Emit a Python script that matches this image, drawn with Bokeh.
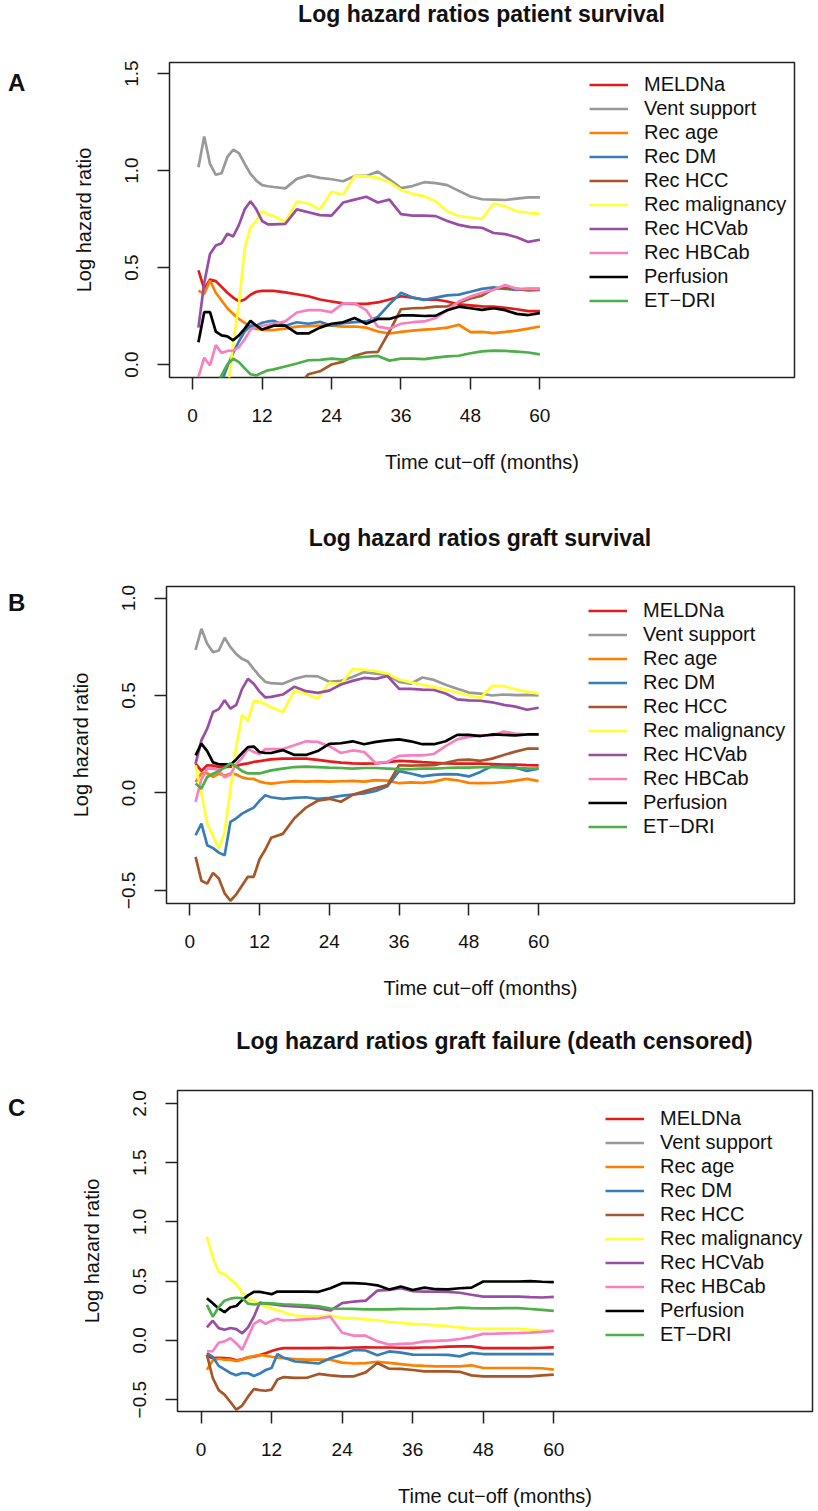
from bokeh.plotting import figure
from bokeh.models import Range1d, FixedTicker, Legend, LegendItem, Div
from bokeh.layouts import column, row
from bokeh.embed import file_html
from bokeh.resources import INLINE

# ---------------- data ----------------
months = [1, 2, 3, 4, 5, 6, 7, 8, 9, 10, 11, 12, 13, 14,
          16, 18, 20, 22, 24, 26, 28, 30, 32, 34, 36, 38, 40, 42, 44, 46, 48, 50, 52, 54, 56, 58, 60]

series_names = ["MELDNa", "Vent support", "Rec age", "Rec DM", "Rec HCC",
                "Rec malignancy", "Rec HCVab", "Rec HBCab", "Perfusion", "ET\u2212DRI"]
series_colors = ["#E41A1C", "#999999", "#FF7F00", "#377EB8", "#A65628",
                 "#FFFF33", "#984EA3", "#F781BF", "#000000", "#4DAF4A"]

x_ticks = [0, 12, 24, 36, 48, 60]

# Panel A: patient survival
a_meldna = [0.485, 0.39, 0.438, 0.43, 0.40, 0.37, 0.345, 0.325, 0.335, 0.36, 0.375, 0.38, 0.38, 0.38,
            0.372, 0.362, 0.352, 0.335, 0.325, 0.315, 0.313, 0.313, 0.32, 0.335, 0.352, 0.345, 0.335, 0.335,
            0.325, 0.31, 0.305, 0.30, 0.298, 0.292, 0.285, 0.275, 0.275]
a_vent = [1.017, 1.175, 1.034, 0.978, 0.986, 1.07, 1.107, 1.09, 1.034, 0.983, 0.948, 0.925, 0.919, 0.915,
          0.908, 0.957, 0.975, 0.962, 0.955, 0.945, 0.972, 0.972, 0.995, 0.955, 0.909, 0.92, 0.94, 0.935,
          0.925, 0.895, 0.866, 0.852, 0.85, 0.848, 0.855, 0.862, 0.862]
a_age = [0.381, 0.364, 0.433, 0.37, 0.33, 0.29, 0.261, 0.235, 0.215, 0.192, 0.183, 0.179, 0.177, 0.178,
         0.185, 0.195, 0.198, 0.2, 0.2, 0.195, 0.196, 0.19, 0.17, 0.16, 0.168, 0.175, 0.18, 0.184,
         0.19, 0.205, 0.167, 0.168, 0.162, 0.168, 0.175, 0.185, 0.196]
a_dm = [-0.3, -0.25, -0.2, -0.15, -0.09, -0.01, 0.06, 0.12, 0.17, 0.2, 0.2, 0.215, 0.222, 0.225,
        0.2, 0.218, 0.21, 0.22, 0.2, 0.213, 0.218, 0.222, 0.245, 0.31, 0.37, 0.345, 0.333, 0.345,
        0.356, 0.36, 0.375, 0.39, 0.398, 0.39, 0.385, 0.39, 0.39]
a_hcc = [-0.9, -0.85, -0.8, -0.75, -0.7, -0.6, -0.55, -0.5, -0.45, -0.4, -0.35, -0.3, -0.27, -0.25,
         -0.2, -0.12, -0.05, -0.035, 0.0, 0.015, 0.045, 0.062, 0.065, 0.17, 0.285, 0.29, 0.292, 0.298,
         0.3, 0.318, 0.34, 0.355, 0.39, 0.395, 0.39, 0.382, 0.385]
a_malig = [-0.6, -0.55, -0.5, -0.45, -0.35, -0.15, 0.107, 0.313, 0.6, 0.708, 0.74, 0.79, 0.775, 0.765,
           0.735, 0.84, 0.83, 0.8, 0.89, 0.875, 0.972, 0.97, 0.962, 0.94, 0.9, 0.88, 0.868, 0.84,
           0.79, 0.765, 0.758, 0.75, 0.83, 0.815, 0.79, 0.782, 0.777]
a_hcv = [0.19, 0.42, 0.57, 0.613, 0.625, 0.674, 0.66, 0.72, 0.80, 0.842, 0.80, 0.74, 0.722, 0.722,
         0.725, 0.8, 0.785, 0.77, 0.768, 0.835, 0.85, 0.865, 0.835, 0.85, 0.775, 0.768, 0.768, 0.765,
         0.74, 0.72, 0.708, 0.705, 0.678, 0.672, 0.656, 0.632, 0.643]
a_hbc = [-0.065, 0.035, -0.005, 0.1, 0.06, 0.07, 0.072, 0.09, 0.13, 0.18, 0.195, 0.2, 0.205, 0.21,
         0.222, 0.268, 0.28, 0.28, 0.27, 0.315, 0.315, 0.28, 0.195, 0.185, 0.21, 0.218, 0.222, 0.24,
         0.28, 0.325, 0.35, 0.37, 0.385, 0.41, 0.39, 0.39, 0.39]
a_perf = [0.115, 0.27, 0.27, 0.17, 0.15, 0.145, 0.125, 0.15, 0.185, 0.225, 0.2, 0.18, 0.19, 0.2,
          0.2, 0.16, 0.16, 0.19, 0.21, 0.218, 0.24, 0.21, 0.235, 0.235, 0.253, 0.253, 0.25, 0.252,
          0.28, 0.298, 0.29, 0.282, 0.29, 0.28, 0.261, 0.255, 0.265]
a_etdri = [-0.3, -0.25, -0.18, -0.12, -0.055, 0.0, 0.03, 0.012, -0.02, -0.05, -0.057, -0.042, -0.03, -0.025,
           -0.01, 0.005, 0.022, 0.024, 0.03, 0.025, 0.035, 0.04, 0.044, 0.02, 0.03, 0.03, 0.028, 0.035,
           0.042, 0.045, 0.058, 0.068, 0.072, 0.07, 0.066, 0.062, 0.052]

# Panel B: graft survival
b_meldna = [0.15, 0.113, 0.142, 0.14, 0.133, 0.133, 0.135, 0.138, 0.147, 0.152, 0.159, 0.163, 0.168, 0.172,
            0.176, 0.176, 0.176, 0.17, 0.162, 0.156, 0.152, 0.15, 0.152, 0.158, 0.165, 0.162, 0.158, 0.155,
            0.152, 0.15, 0.15, 0.15, 0.148, 0.146, 0.145, 0.143, 0.142]
b_vent = [0.734, 0.842, 0.765, 0.722, 0.731, 0.796, 0.748, 0.712, 0.688, 0.674, 0.635, 0.6, 0.57, 0.563,
          0.56, 0.585, 0.6, 0.598, 0.57, 0.575, 0.595, 0.62, 0.612, 0.605, 0.57, 0.56, 0.592, 0.58,
          0.555, 0.535, 0.515, 0.51, 0.5, 0.505, 0.502, 0.503, 0.5]
b_age = [0.056, 0.1, 0.102, 0.082, 0.099, 0.088, 0.1, 0.095, 0.08, 0.073, 0.072, 0.058, 0.052, 0.048,
         0.055, 0.061, 0.058, 0.061, 0.058, 0.06, 0.062, 0.058, 0.066, 0.063, 0.05, 0.054, 0.052, 0.058,
         0.072, 0.065, 0.052, 0.05, 0.051, 0.056, 0.063, 0.072, 0.061]
b_dm = [-0.217, -0.157, -0.268, -0.283, -0.306, -0.319, -0.148, -0.13, -0.106, -0.09, -0.075, -0.04, -0.012, -0.022,
        -0.03, -0.025, -0.022, -0.03, -0.025, -0.015, -0.008, -0.002, 0.01, 0.035, 0.112, 0.1, 0.085, 0.093,
        0.097, 0.095, 0.085, 0.108, 0.138, 0.138, 0.13, 0.113, 0.125]
b_hcc = [-0.328, -0.45, -0.465, -0.41, -0.439, -0.515, -0.553, -0.52, -0.475, -0.43, -0.43, -0.34, -0.29, -0.23,
         -0.21, -0.13, -0.075, -0.04, -0.03, -0.045, -0.01, 0.008, 0.025, 0.04, 0.142, 0.14, 0.142, 0.143,
         0.155, 0.168, 0.171, 0.165, 0.176, 0.195, 0.212, 0.227, 0.227]
b_malig = [0.142, 0.0, -0.157, -0.22, -0.285, -0.2, 0.02, 0.24, 0.4, 0.37, 0.47, 0.47, 0.455, 0.44,
           0.415, 0.525, 0.508, 0.485, 0.565, 0.558, 0.636, 0.632, 0.625, 0.612, 0.582, 0.567, 0.556, 0.543,
           0.53, 0.515, 0.5, 0.488, 0.55, 0.548, 0.532, 0.52, 0.509]
b_hcv = [0.15, 0.27, 0.33, 0.415, 0.43, 0.475, 0.432, 0.452, 0.534, 0.585, 0.56, 0.52, 0.49, 0.493,
         0.505, 0.545, 0.522, 0.513, 0.525, 0.556, 0.575, 0.59, 0.585, 0.6, 0.534, 0.534, 0.53, 0.528,
         0.51, 0.48, 0.475, 0.473, 0.465, 0.452, 0.443, 0.427, 0.437]
b_hbc = [-0.046, 0.07, 0.125, 0.125, 0.118, 0.08, 0.095, 0.148, 0.18, 0.225, 0.21, 0.2, 0.225, 0.225,
         0.225, 0.245, 0.265, 0.262, 0.24, 0.205, 0.218, 0.21, 0.152, 0.16, 0.19, 0.193, 0.193, 0.2,
         0.24, 0.275, 0.288, 0.295, 0.295, 0.315, 0.305, 0.3, 0.3]
b_perf = [0.193, 0.253, 0.215, 0.157, 0.147, 0.147, 0.145, 0.172, 0.205, 0.235, 0.238, 0.21, 0.205, 0.205,
          0.22, 0.195, 0.195, 0.215, 0.252, 0.255, 0.265, 0.25, 0.262, 0.27, 0.275, 0.265, 0.25, 0.25,
          0.265, 0.298, 0.298, 0.292, 0.3, 0.298, 0.295, 0.3, 0.3]
b_etdri = [0.048, 0.022, 0.082, 0.099, 0.112, 0.13, 0.152, 0.135, 0.112, 0.1, 0.1, 0.1, 0.108, 0.116,
           0.125, 0.133, 0.135, 0.133, 0.13, 0.128, 0.125, 0.128, 0.128, 0.125, 0.122, 0.122, 0.125, 0.125,
           0.128, 0.13, 0.13, 0.132, 0.132, 0.13, 0.128, 0.126, 0.125]

# Panel C: graft failure (death censored); Vent support has no line drawn here
c_meldna = [-0.135, -0.149, -0.147, -0.149, -0.153, -0.168, -0.16, -0.143, -0.138, -0.124, -0.108, -0.09, -0.075, -0.065,
            -0.066, -0.066, -0.065, -0.062, -0.064, -0.06, -0.059, -0.06, -0.06, -0.062, -0.063, -0.06, -0.058, -0.053,
            -0.05, -0.05, -0.065, -0.065, -0.065, -0.065, -0.065, -0.062, -0.059]
c_vent = []
c_age = [-0.247, -0.17, -0.155, -0.163, -0.163, -0.175, -0.16, -0.143, -0.133, -0.123, -0.128, -0.138, -0.145, -0.15,
         -0.158, -0.163, -0.163, -0.163, -0.188, -0.195, -0.192, -0.18, -0.19, -0.2, -0.21, -0.215, -0.219, -0.219,
         -0.219, -0.21, -0.233, -0.233, -0.233, -0.233, -0.233, -0.235, -0.247]
c_dm = [-0.107, -0.14, -0.215, -0.245, -0.275, -0.295, -0.275, -0.277, -0.3, -0.28, -0.25, -0.233, -0.115, -0.145,
        -0.178, -0.185, -0.195, -0.15, -0.12, -0.08, -0.085, -0.125, -0.093, -0.103, -0.12, -0.121, -0.121, -0.122,
        -0.135, -0.105, -0.115, -0.115, -0.115, -0.115, -0.115, -0.115, -0.115]
c_hcc = [-0.121, -0.317, -0.42, -0.457, -0.52, -0.585, -0.55, -0.475, -0.41, -0.42, -0.425, -0.415, -0.33, -0.31,
         -0.317, -0.315, -0.283, -0.295, -0.303, -0.303, -0.27, -0.191, -0.239, -0.24, -0.25, -0.261, -0.261, -0.261,
         -0.265, -0.295, -0.303, -0.303, -0.303, -0.303, -0.303, -0.295, -0.289]
c_malig = [0.875, 0.7, 0.58, 0.558, 0.515, 0.475, 0.405, 0.352, 0.33, 0.305, 0.285, 0.27, 0.255, 0.238,
           0.21, 0.202, 0.202, 0.21, 0.188, 0.188, 0.178, 0.17, 0.154, 0.148, 0.14, 0.135, 0.127, 0.12,
           0.11, 0.098, 0.098, 0.098, 0.098, 0.097, 0.09, 0.085, 0.081]
c_hcv = [0.109, 0.166, 0.104, 0.09, 0.105, 0.095, 0.06, 0.11, 0.2, 0.32, 0.31, 0.305, 0.3, 0.293,
         0.286, 0.28, 0.272, 0.252, 0.314, 0.328, 0.335, 0.42, 0.426, 0.44, 0.415, 0.412, 0.412, 0.41,
         0.402, 0.385, 0.37, 0.37, 0.37, 0.37, 0.365, 0.362, 0.368]
c_hbc = [-0.093, -0.09, -0.02, -0.008, 0.018, -0.025, -0.079, 0.03, 0.14, 0.17, 0.14, 0.165, 0.182, 0.168,
         0.172, 0.18, 0.185, 0.2, 0.065, 0.04, 0.04, -0.008, -0.035, -0.03, -0.025, -0.008, -0.004, 0.0,
         0.012, 0.03, 0.055, 0.057, 0.06, 0.062, 0.065, 0.072, 0.081]
c_perf = [0.356, 0.314, 0.27, 0.238, 0.28, 0.29, 0.34, 0.38, 0.41, 0.41, 0.4, 0.39, 0.412, 0.412,
          0.412, 0.412, 0.41, 0.44, 0.483, 0.483, 0.478, 0.465, 0.43, 0.455, 0.425, 0.445, 0.432, 0.43,
          0.44, 0.445, 0.497, 0.497, 0.497, 0.497, 0.5, 0.495, 0.491]
c_etdri = [0.3, 0.2, 0.28, 0.335, 0.352, 0.36, 0.358, 0.31, 0.303, 0.308, 0.314, 0.312, 0.308, 0.305,
           0.3, 0.295, 0.287, 0.268, 0.267, 0.266, 0.262, 0.262, 0.262, 0.266, 0.265, 0.265, 0.267, 0.27,
           0.276, 0.272, 0.27, 0.27, 0.272, 0.272, 0.265, 0.258, 0.25]

FONT = "Liberation Sans"
LETTER_W = 38
FIG_W = 776


def title_div(text, height, top, left, width):
    html = ('<div style="margin:0;padding:0;margin-top:%dpx;margin-left:%dpx;width:%dpx;'
            'text-align:center;font-family:\'Liberation Sans\',Arial,sans-serif;font-weight:bold;'
            'font-size:23px;line-height:24px;color:#111;white-space:nowrap;">%s</div>') % (top, left, width, text)
    return Div(text=html, width=LETTER_W + FIG_W, height=height, margin=(0, 0, 0, 0))


def letter_div(text, height, top):
    html = ('<div style="margin:0;padding:0;margin-top:%dpx;padding-left:8px;text-align:left;'
            'font-family:\'Liberation Sans\',Arial,sans-serif;font-weight:bold;'
            'font-size:24px;line-height:28px;color:#111;">%s</div>') % (top, text)
    return Div(text=html, width=LETTER_W, height=height, margin=(0, 0, 0, 0))


def make_panel(series, y_range, y_ticks, frame_w, frame_h, border_left, border_top,
               border_bottom, legend_xy):
    border_right = FIG_W - border_left - frame_w
    p = figure(frame_width=frame_w, frame_height=frame_h,
               min_border_left=border_left, min_border_right=border_right,
               min_border_top=border_top, min_border_bottom=border_bottom,
               x_range=Range1d(-4, 104), y_range=Range1d(*y_range),
               output_backend="svg", toolbar_location=None, title=None)
    p.xgrid.visible = False
    p.ygrid.visible = False
    p.outline_line_color = "#222222"
    p.outline_line_width = 1.5
    p.background_fill_color = "white"
    p.border_fill_color = "white"

    for ax in (p.xaxis[0], p.yaxis[0]):
        ax.axis_line_color = None
        ax.major_tick_line_color = "#222222"
        ax.major_tick_line_width = 1.5
        ax.major_tick_out = 12
        ax.major_tick_in = 0
        ax.minor_tick_line_color = None
        ax.major_label_text_font = FONT
        ax.major_label_text_font_size = "19px"
        ax.major_label_text_color = "#111111"
        ax.major_label_standoff = 19
        ax.axis_label_text_font = FONT
        ax.axis_label_text_font_size = "20px"
        ax.axis_label_text_font_style = "normal"
        ax.axis_label_text_color = "#111111"
    p.xaxis[0].ticker = FixedTicker(ticks=x_ticks)
    p.xaxis[0].axis_label = "Time cut\u2212off (months)"
    p.xaxis[0].axis_label_standoff = 26
    p.yaxis[0].ticker = FixedTicker(ticks=y_ticks)
    p.yaxis[0].major_label_orientation = "vertical"
    p.yaxis[0].major_label_overrides = {t: ("%.1f" % t).replace("-", "\u2212") for t in y_ticks}
    p.yaxis[0].axis_label = "Log hazard ratio"
    p.yaxis[0].axis_label_standoff = 28

    items = []
    for name, color, ys in zip(series_names, series_colors, series):
        if len(ys) > 0:
            r = p.line(months, ys, line_color=color, line_width=2.7)
        else:
            r = p.line([months[0]], [float("nan")], line_color=color, line_width=2.7)
        items.append(LegendItem(label=name, renderers=[r]))

    legend = Legend(items=items, location=legend_xy, border_line_color=None,
                    background_fill_alpha=0, padding=0, margin=0, spacing=1,
                    glyph_width=39, glyph_height=23, label_height=23, label_standoff=16,
                    label_text_font=FONT, label_text_font_size="20px", label_text_color="#111111")
    p.add_layout(legend)
    return p


def panel_block(title, letter, title_h, title_top, row_h, letter_top, p, frame_left_in_fig, frame_w):
    t = title_div(title, title_h, title_top, LETTER_W + frame_left_in_fig, frame_w)
    l = letter_div(letter, row_h, letter_top)
    return column(t, row(l, p, spacing=0), spacing=0)


# Panel A
pA = make_panel([a_meldna, a_vent, a_age, a_dm, a_hcc, a_malig, a_hcv, a_hbc, a_perf, a_etdri],
                (-0.067, 1.557), [0.0, 0.5, 1.0, 1.5],
                625, 315, 131, 24, 113, (420, 65))
blockA = panel_block("Log hazard ratios patient survival", "A", 38, 2, 452, 31, pA, 131, 625)

# Panel B
pB = make_panel([b_meldna, b_vent, b_age, b_dm, b_hcc, b_malig, b_hcv, b_hbc, b_perf, b_etdri],
                (-0.567, 1.059), [-0.5, 0.0, 0.5, 1.0],
                628, 317, 128, 26, 97, (422, 65))
blockB = panel_block("Log hazard ratios graft survival", "B", 70, 36, 440, 29, pB, 128, 628)

# Panel C
pC = make_panel([c_meldna, c_vent, c_age, c_dm, c_hcc, c_malig, c_hcv, c_hbc, c_perf, c_etdri],
                (-0.6, 2.109), [-0.5, 0.0, 0.5, 1.0, 1.5, 2.0],
                635, 321, 139, 19, 93, (428, 65))
blockC = panel_block("Log hazard ratios graft failure (death censored)", "C", 70, 28, 433, 23, pC, 139, 635)

layout = column(blockA, blockB, blockC, spacing=0)
open("out.html", "w").write(file_html(layout, INLINE))
